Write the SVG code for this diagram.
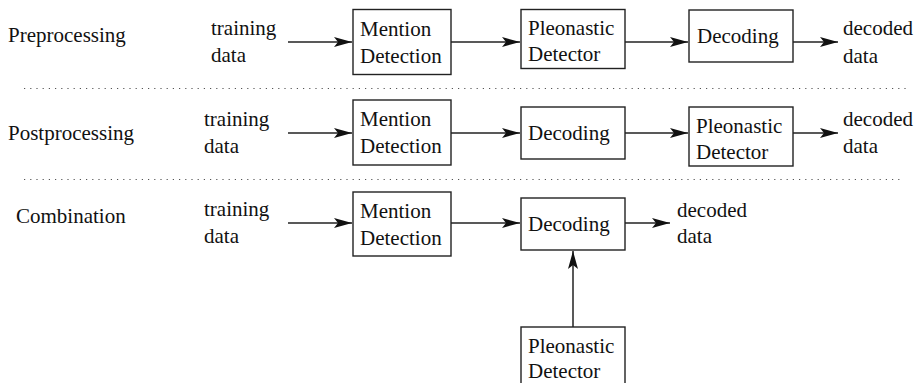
<svg xmlns="http://www.w3.org/2000/svg" width="918" height="383" viewBox="0 0 918 383">
  <style>
    .box { fill: #fff; stroke: #222; stroke-width: 1.4; }
    .edge { fill: none; stroke: #222; stroke-width: 1.5; marker-end: url(#head); }
    .sep { fill: none; stroke: #555; stroke-width: 1.2; stroke-dasharray: 1.2 5; }
    .t { font-family: "Liberation Serif", "DejaVu Serif", serif; font-size: 21px; fill: #111; }
  </style>
  <defs>
    <marker id="head" markerUnits="userSpaceOnUse" markerWidth="20" markerHeight="12" viewBox="0 0 20 12" refX="19" refY="6" orient="auto">
      <path d="M1,1 L19,6 L1,11 L5,6 Z" fill="#111"/>
    </marker>
  </defs>

  <g class="t">
  <!-- section separators -->
  <line class="sep" x1="24" y1="88.5" x2="908" y2="88.5"/>
  <line class="sep" x1="24" y1="179.5" x2="900" y2="179.5"/>

  <!-- row labels and free text -->
  <g id="labels">
    <text x="8" y="42">Preprocessing</text>
    <text x="8" y="140">Postprocessing</text>
    <text x="16" y="223">Combination</text>

    <text x="211" y="35">training</text>
    <text x="211" y="62">data</text>
    <text x="204" y="126">training</text>
    <text x="204" y="153">data</text>
    <text x="204" y="216">training</text>
    <text x="204" y="243">data</text>

    <text x="843" y="35">decoded</text>
    <text x="843" y="63">data</text>
    <text x="843" y="126">decoded</text>
    <text x="843" y="153">data</text>
    <text x="677" y="217">decoded</text>
    <text x="677" y="243">data</text>
  </g>

  <!-- row 1: preprocessing -->
  <g id="pre-mention">
    <rect class="box" x="353" y="9.5" width="98" height="65"/>
    <text x="360" y="36">Mention</text>
    <text x="360" y="63">Detection</text>
  </g>
  <g id="pre-pleonastic">
    <rect class="box" x="521" y="9.5" width="104" height="59"/>
    <text x="528" y="35">Pleonastic</text>
    <text x="528" y="61">Detector</text>
  </g>
  <g id="pre-decoding">
    <rect class="box" x="689" y="10" width="104" height="52"/>
    <text x="697" y="43">Decoding</text>
  </g>

  <!-- row 2: postprocessing -->
  <g id="post-mention">
    <rect class="box" x="353" y="100" width="98" height="65"/>
    <text x="360" y="126">Mention</text>
    <text x="360" y="153">Detection</text>
  </g>
  <g id="post-decoding">
    <rect class="box" x="521" y="107" width="104" height="52"/>
    <text x="528" y="140">Decoding</text>
  </g>
  <g id="post-pleonastic">
    <rect class="box" x="689" y="107" width="104" height="59"/>
    <text x="696" y="133">Pleonastic</text>
    <text x="696" y="159">Detector</text>
  </g>

  <!-- row 3: combination -->
  <g id="comb-mention">
    <rect class="box" x="353" y="192" width="98" height="64"/>
    <text x="360" y="218">Mention</text>
    <text x="360" y="245">Detection</text>
  </g>
  <g id="comb-decoding">
    <rect class="box" x="521" y="198" width="104" height="52"/>
    <text x="528" y="231">Decoding</text>
  </g>
  <g id="comb-pleonastic">
    <rect class="box" x="521" y="327" width="104" height="66"/>
    <text x="528" y="353">Pleonastic</text>
    <text x="528" y="378">Detector</text>
  </g>

  <!-- connectors -->
  <g id="connectors">
    <line class="edge" x1="288" y1="42" x2="352" y2="42"/>
    <line class="edge" x1="451" y1="42" x2="520" y2="42"/>
    <line class="edge" x1="625" y1="42" x2="688" y2="42"/>
    <line class="edge" x1="793" y1="42" x2="838" y2="42"/>

    <line class="edge" x1="288" y1="133" x2="352" y2="133"/>
    <line class="edge" x1="451" y1="133" x2="520" y2="133"/>
    <line class="edge" x1="625" y1="133" x2="688" y2="133"/>
    <line class="edge" x1="793" y1="133" x2="838" y2="133"/>

    <line class="edge" x1="288" y1="223" x2="352" y2="223"/>
    <line class="edge" x1="451" y1="223" x2="520" y2="223"/>
    <line class="edge" x1="625" y1="223" x2="670" y2="223"/>
    <line class="edge" x1="573" y1="327" x2="573" y2="251"/>
  </g>
  </g>
</svg>
